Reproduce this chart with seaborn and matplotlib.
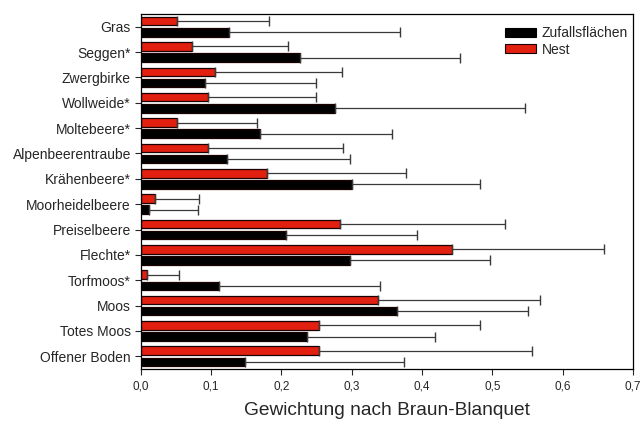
import matplotlib
matplotlib.use("Agg")
import matplotlib.pyplot as plt
import seaborn as sns
import pandas as pd
import numpy as np
from matplotlib.patches import Patch

categories = ["Gras", "Seggen*", "Zwergbirke", "Wollweide*", "Moltebeere*",
              "Alpenbeerentraube", "Krähenbeere*", "Moorheidelbeere",
              "Preiselbeere", "Flechte*", "Torfmoos*", "Moos", "Totes Moos",
              "Offener Boden"]
nest_mean = [0.052, 0.073, 0.105, 0.095, 0.052, 0.095, 0.179, 0.020,
             0.284, 0.442, 0.009, 0.337, 0.253, 0.253]
nest_err = [0.131, 0.137, 0.181, 0.154, 0.113, 0.192, 0.198, 0.063,
            0.234, 0.217, 0.046, 0.231, 0.229, 0.303]
zuf_mean = [0.126, 0.226, 0.091, 0.276, 0.170, 0.122, 0.301, 0.012,
            0.207, 0.297, 0.112, 0.364, 0.236, 0.148]
zuf_err = [0.242, 0.228, 0.158, 0.271, 0.187, 0.176, 0.181, 0.070,
           0.186, 0.199, 0.228, 0.186, 0.182, 0.226]
xticks = [0.0, 0.1, 0.2, 0.3, 0.4, 0.5, 0.6, 0.7]
xticklabels = ["0,0", "0,1", "0,2", "0,3", "0,4", "0,5", "0,6", "0,7"]
series = ["Nest", "Zufallsflächen"]
colors = {"Nest": "#E2200F", "Zufallsflächen": "#000000"}

df = pd.DataFrame({
    "cat": categories * 2,
    "val": nest_mean + zuf_mean,
    "err": nest_err + zuf_err,
    "grp": ["Nest"] * len(categories) + ["Zufallsflächen"] * len(categories),
})

sns.set_style("ticks")
plt.rcParams["font.family"] = ["Liberation Sans", "DejaVu Sans"]

fig = plt.figure(figsize=(6.44, 4.24), dpi=100)
ax = fig.add_axes([0.2185, 0.1297, 0.7645, 0.8373])

sns.barplot(data=df, y="cat", x="val", hue="grp", hue_order=series,
            order=categories, palette=colors, orient="h", width=0.88,
            gap=0.23, edgecolor="#1a0000", linewidth=0.9, errorbar=None,
            saturation=1, legend=False, ax=ax)

# error bars (positive side only) anchored on the bars drawn by seaborn
for container, grp in zip(ax.containers, series):
    sub = df[df["grp"] == grp].set_index("cat").loc[categories]
    ys = [p.get_y() + p.get_height() / 2 for p in container.patches]
    xs = [p.get_width() for p in container.patches]
    ax.errorbar(xs, ys, xerr=[np.zeros(len(xs)), sub["err"].values],
                fmt="none", ecolor="#3a3a3a", elinewidth=0.9,
                capsize=3.6, capthick=1.0, zorder=1)

ax.set_xlim(0, 0.7)
ax.set_ylim(len(categories) - 0.5, -0.5)
ax.set_xticks(xticks)
ax.set_xticklabels(xticklabels, fontsize=8.5)
ax.tick_params(axis="y", labelsize=10, length=4, width=0.8, pad=3)
ax.tick_params(axis="x", length=4, width=0.8, pad=4)
ax.set_ylabel("")
ax.set_xlabel("Gewichtung nach Braun-Blanquet", fontsize=13.8, labelpad=7)
for s in ax.spines.values():
    s.set_visible(True)
    s.set_linewidth(0.9)
    s.set_color("black")

handles = [Patch(facecolor=colors["Zufallsflächen"], edgecolor="black", linewidth=0.8),
           Patch(facecolor=colors["Nest"], edgecolor="#1a0000", linewidth=0.8)]
ax.legend(handles, ["Zufallsflächen", "Nest"], loc="upper right",
          bbox_to_anchor=(0.99, 0.965), frameon=False, fontsize=10,
          handlelength=2.25, handleheight=0.6, borderaxespad=0,
          borderpad=0, labelspacing=0.15, handletextpad=0.4)

fig.savefig("out.png", dpi=100)
